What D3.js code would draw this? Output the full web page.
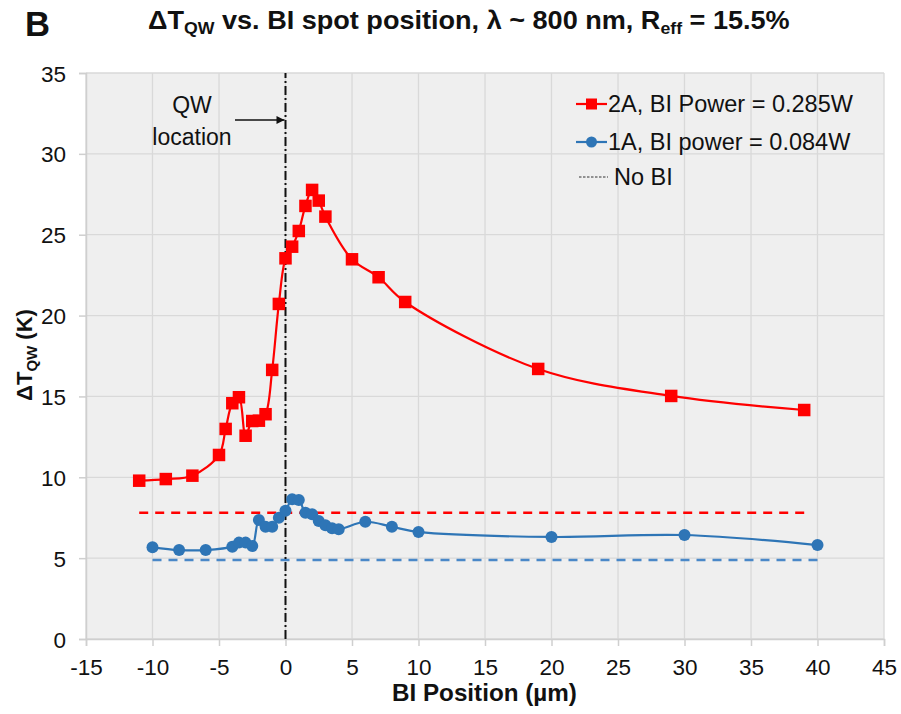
<!DOCTYPE html>
<html>
<head>
<meta charset="utf-8">
<script src="https://cdn.jsdelivr.net/npm/d3@7"></script>
<style>
  html, body { margin: 0; padding: 0; background: #ffffff; }
  svg { display: block; font-family: "Liberation Sans", Arial, sans-serif; }
</style>
</head>
<body>
<svg id="chart" width="901" height="714"></svg>
<script>
// ---------------- data ----------------
const redX = [-11, -9, -7, -5, -4.5, -4, -3.5, -3, -2.5, -2, -1.5, -1, -0.5, 0, 0.5, 1, 1.5, 2, 2.5, 3, 5, 7, 9, 19, 29, 39];
const redY = [9.79, 9.89, 10.1, 11.38, 12.99, 14.58, 14.95, 12.57, 13.48, 13.5, 13.9, 16.64, 20.72, 23.54, 24.26, 25.23, 26.78, 27.77, 27.11, 26.12, 23.48, 22.37, 20.84, 16.7, 15.03, 14.16];
const blueX = [-10, -8, -6, -4, -3.5, -3, -2.5, -2, -1.5, -1, -0.5, 0, 0.5, 1, 1.5, 2, 2.5, 3, 3.5, 4, 6, 8, 10, 20, 30, 40];
const blueY = [5.67, 5.5, 5.5, 5.71, 5.96, 5.96, 5.75, 7.36, 6.94, 6.94, 7.5, 7.93, 8.64, 8.6, 7.81, 7.71, 7.3, 7.03, 6.85, 6.78, 7.25, 6.94, 6.62, 6.31, 6.43, 5.81];
const noBiRedX = [-11, 39];
const noBiRedY = [7.81, 7.81];
const noBiBlueX = [-10, 40];
const noBiBlueY = [4.89, 4.89];
const qwX = [0, 0];
const qwY = [0, 35];
const xTicks = [-15, -10, -5, 0, 5, 10, 15, 20, 25, 30, 35, 40, 45];
const yTicks = [0, 5, 10, 15, 20, 25, 30, 35];
const legendLabels = ["2A, BI Power = 0.285W", "1A, BI power = 0.084W", "No BI"];

// ---------------- layout ----------------
const W = 901, H = 714;
const m = { left: 86, right: 17, top: 73, bottom: 75 };
const svg = d3.select("#chart");
const x = d3.scaleLinear().domain([-15, 45]).range([m.left, W - m.right]);
const y = d3.scaleLinear().domain([0, 35]).range([H - m.bottom, m.top]);

const RED = "#ff0000", BLUE = "#2e75b6", BLUE_DASH = "#4a88c8", GRID = "#d9d9d9";

// plot background
svg.append("rect")
  .attr("x", x(-15)).attr("y", y(35))
  .attr("width", x(45) - x(-15)).attr("height", y(0) - y(35))
  .attr("fill", "#efefef");

// grid
const grid = svg.append("g");
grid.selectAll(".gx").data(xTicks).join("line")
  .attr("x1", d => x(d)).attr("x2", d => x(d))
  .attr("y1", y(0)).attr("y2", y(35))
  .attr("stroke", GRID).attr("stroke-width", 1.3);
grid.selectAll(".gy").data(yTicks).join("line")
  .attr("x1", x(-15)).attr("x2", x(45))
  .attr("y1", d => y(d)).attr("y2", d => y(d))
  .attr("stroke", GRID).attr("stroke-width", 1.3);

// axes
const fmt = d => String(d);
const xAxis = d3.axisBottom(x).tickValues(xTicks).tickSize(7).tickPadding(8).tickFormat(fmt);
const yAxis = d3.axisLeft(y).tickValues(yTicks).tickSize(7).tickPadding(13).tickFormat(fmt);
const gx = svg.append("g").attr("transform", `translate(0,${y(0)})`).call(xAxis);
const gy = svg.append("g").attr("transform", `translate(${x(-15)},0)`).call(yAxis);
[gx, gy].forEach(g => {
  g.select(".domain").attr("stroke", "#cfcfcf").attr("stroke-width", 1.5);
  g.selectAll(".tick line").attr("stroke", "#cfcfcf").attr("stroke-width", 1.5);
  g.selectAll(".tick text").attr("fill", "#111").style("font-size", "22.5px")
    .style("font-family", "'Liberation Sans', Arial, sans-serif");
});
gx.selectAll(".tick text").attr("dy", "0.71em").attr("y", 20);
gy.selectAll(".tick text").attr("dy", "0.36em");

// No BI dashed lines
const line = d3.line().x(d => x(d[0])).y(d => y(d[1]));
svg.append("path").datum(d3.zip(noBiRedX, noBiRedY)).attr("d", line)
  .attr("fill", "none").attr("stroke", RED).attr("stroke-width", 2.5).attr("stroke-dasharray", "9,7");
svg.append("path").datum(d3.zip(noBiBlueX, noBiBlueY)).attr("d", line)
  .attr("fill", "none").attr("stroke", BLUE_DASH).attr("stroke-width", 2.5).attr("stroke-dasharray", "9,7");

// QW location dash-dot line
svg.append("path").datum(d3.zip(qwX, qwY)).attr("d", line)
  .attr("fill", "none").attr("stroke", "#111").attr("stroke-width", 2)
  .attr("stroke-dasharray", "9,3,2,3");

// series
const smooth = d3.line().x(d => x(d[0])).y(d => y(d[1])).curve(d3.curveCatmullRom.alpha(0.5));
const redData = d3.zip(redX, redY);
const blueData = d3.zip(blueX, blueY);

svg.append("path").datum(blueData).attr("d", smooth)
  .attr("fill", "none").attr("stroke", BLUE).attr("stroke-width", 2.2);
svg.append("g").selectAll("circle").data(blueData).join("circle")
  .attr("cx", d => x(d[0])).attr("cy", d => y(d[1])).attr("r", 6)
  .attr("fill", BLUE);

svg.append("path").datum(redData).attr("d", smooth)
  .attr("fill", "none").attr("stroke", RED).attr("stroke-width", 2.2);
const sq = 12.5;
svg.append("g").selectAll("rect").data(redData).join("rect")
  .attr("x", d => x(d[0]) - sq / 2).attr("y", d => y(d[1]) - sq / 2)
  .attr("width", sq).attr("height", sq).attr("fill", RED);

// QW location annotation
svg.append("text").attr("x", 192).attr("y", 113).attr("text-anchor", "middle")
  .style("font-size", "23px").attr("fill", "#111").text("QW");
svg.append("text").attr("x", 192).attr("y", 145).attr("text-anchor", "middle")
  .style("font-size", "23px").attr("fill", "#111").text("location");
svg.append("defs").append("marker").attr("id", "arrow")
  .attr("viewBox", "0 0 10 10").attr("refX", 10).attr("refY", 5)
  .attr("markerWidth", 10).attr("markerHeight", 8).attr("markerUnits", "userSpaceOnUse")
  .attr("orient", "auto")
  .append("path").attr("d", "M0,0 L10,5 L0,10 Z").attr("fill", "#111");
svg.append("line").attr("x1", 235).attr("y1", 120).attr("x2", x(0) - 1).attr("y2", 120)
  .attr("stroke", "#111").attr("stroke-width", 1.3).attr("marker-end", "url(#arrow)");

// legend
const lg = svg.append("g");
const lx0 = 576, lx1 = 607, lxt = 608;
const lys = [104, 142, 177];
lg.append("line").attr("x1", lx0).attr("x2", lx1).attr("y1", lys[0]).attr("y2", lys[0])
  .attr("stroke", RED).attr("stroke-width", 2.2);
lg.append("rect").attr("x", (lx0 + lx1) / 2 - 5.5).attr("y", lys[0] - 5.5)
  .attr("width", 11).attr("height", 11).attr("fill", RED);
lg.append("line").attr("x1", lx0).attr("x2", lx1).attr("y1", lys[1]).attr("y2", lys[1])
  .attr("stroke", BLUE).attr("stroke-width", 2.2);
lg.append("circle").attr("cx", (lx0 + lx1) / 2).attr("cy", lys[1]).attr("r", 5.5).attr("fill", BLUE);
lg.append("line").attr("x1", 579).attr("x2", 608).attr("y1", lys[2]).attr("y2", lys[2])
  .attr("stroke", "#333").attr("stroke-width", 1).attr("stroke-dasharray", "2.5,1.5");
lg.append("text").attr("x", lxt).attr("y", 112).style("font-size", "23.5px").attr("fill", "#111").text(legendLabels[0]);
lg.append("text").attr("x", lxt).attr("y", 150).style("font-size", "23.5px").attr("fill", "#111").text(legendLabels[1]);
lg.append("text").attr("x", 614).attr("y", 185).style("font-size", "23.5px").attr("fill", "#111").text(legendLabels[2]);

// titles
function fitWidth(sel, x0, targetW) {
  const bb = sel.node().getBBox();
  const s = targetW / bb.width;
  sel.attr("transform", `translate(${x0},0) scale(${s},1) translate(${-bb.x},0)`);
}
const title = svg.append("text").attr("x", 0).attr("y", 29)
  .style("font-size", "26px").style("font-weight", "bold").attr("fill", "#111");
title.append("tspan").text("ΔT");
title.append("tspan").attr("dy", 5).style("font-size", "17px").text("QW");
title.append("tspan").attr("dy", -5).text(" vs. BI spot position, λ ~ 800 nm, R");
title.append("tspan").attr("dy", 5).style("font-size", "17px").text("eff");
title.append("tspan").attr("dy", -5).text(" = 15.5%");
fitWidth(title, 148, 642);

const bl = svg.append("text").attr("x", 0).attr("y", 36)
  .style("font-size", "36px").style("font-weight", "bold").attr("fill", "#111").text("B");
fitWidth(bl, 25, 25);

const xt = svg.append("text").attr("x", 0).attr("y", 701)
  .style("font-size", "23px").style("font-weight", "bold").attr("fill", "#111").text("BI Position (µm)");
fitWidth(xt, 392, 185);

const yt = svg.append("text").attr("transform", "translate(32,355) rotate(-90)")
  .attr("text-anchor", "middle")
  .style("font-size", "22px").style("font-weight", "bold").attr("fill", "#111");
yt.append("tspan").text("ΔT");
yt.append("tspan").attr("dy", 5).style("font-size", "15px").text("QW");
yt.append("tspan").attr("dy", -5).text(" (K)");
</script>
</body>
</html>
